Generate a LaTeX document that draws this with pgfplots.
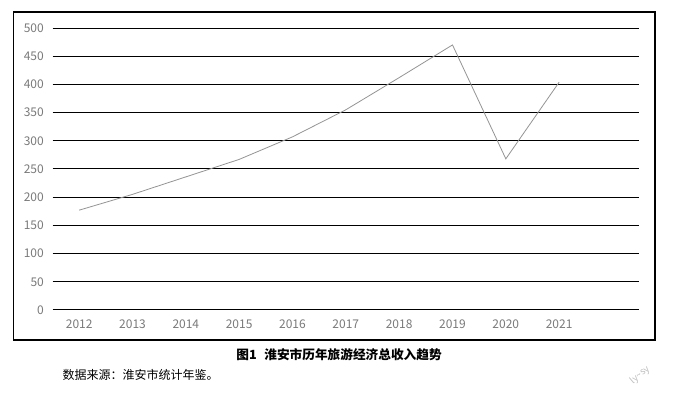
\documentclass[border=0pt]{standalone}
\usepackage{fontspec}
\setmainfont{Noto Sans CJK SC}
\usepackage{pgfplots}
\pgfplotsset{compat=1.18}
\begin{document}
\begin{tikzpicture}[x=1pt,y=1pt]
% canvas
\path[fill=white] (-39.4,-64.5) rectangle (465.4,232.5);
% outer frame
\draw[black, line width=0.8pt] (-29.6,-22.5) rectangle (451.9,223.5);
\begin{axis}[
  at={(0,0)}, anchor=south west,
  scale only axis, width=440pt, height=211.5pt,
  xmin=2011.5, xmax=2022.5, ymin=0, ymax=500,
  axis line style={draw=none},
  xtick={2012,...,2021},
  ytick={0,50,...,500},
  xticklabels={2012,2013,2014,2015,2016,2017,2018,2019,2020,2021},
  major tick length=0pt,
  ymajorgrids, grid style={black, line width=0.75pt},
  tick label style={font=\fontsize{9}{10}\selectfont, text=black!52},
  /pgf/number format/assume math mode=true,
  /pgf/number format/1000 sep={},
  yticklabel style={xshift=-3pt},
  xticklabel style={yshift=-4pt},
  clip=false,
]
\addplot[color=black!42, line width=0.6pt, mark=none] coordinates {
  (2012,177) (2013,205) (2014,236) (2015,267) (2016,307)
  (2017,355) (2018,412) (2019,470) (2020,268) (2021,404)
};
\end{axis}
\node[font=\fontsize{9.5}{11}\selectfont\bfseries] at (214.9,-33.75) {图1\hspace{0.6em}淮安市历年旅游经济总收入趋势};
\node[anchor=west, font=\fontsize{9}{11}\selectfont] at (4.1,-48.75) {数据来源：淮安市统计年鉴。};
\node[rotate=40, text=black!25, font=\fontsize{7}{8}\selectfont] at (440.6,-48.75) {ly\textasciitilde sy};
\end{tikzpicture}
\end{document}
